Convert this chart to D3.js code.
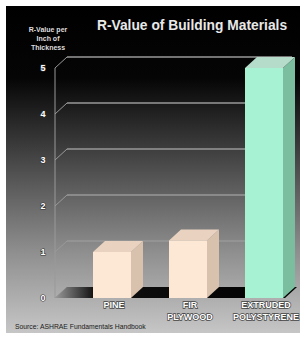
<!DOCTYPE html>
<html>
<head>
<meta charset="utf-8">
<script src="https://cdn.jsdelivr.net/npm/d3@7"></script>
<style>
  html, body { margin: 0; padding: 0; background: #fff; }
  svg { display: block; font-family: "Liberation Sans", Arial, sans-serif; }
</style>
</head>
<body>
<div id="chart"></div>
<script>
// chart data
const categories = ["PINE", "FIR PLYWOOD", "EXTRUDED POLYSTYRENE"]
const labelLines = [["PINE"], ["FIR", "PLYWOOD"], ["EXTRUDED", "POLYSTYRENE"]]
const values = [1.0, 1.25, 5.0]
const tickValues = [0, 1, 2, 3, 4, 5]

const width = 308, height = 339
const depthX = 12, depthY = -11

const svg = d3.select("#chart").append("svg")
  .attr("width", width)
  .attr("height", height)

const defs = svg.append("defs")
let bg = defs.append("linearGradient").attr("id", "bg")
  .attr("x1", 0).attr("y1", 0).attr("x2", 0).attr("y2", 1)
bg.append("stop").attr("offset", "0%").attr("stop-color", "#000")
bg.append("stop").attr("offset", "22%").attr("stop-color", "#050505")
bg.append("stop").attr("offset", "50%").attr("stop-color", "#4e4e4e")
bg.append("stop").attr("offset", "75%").attr("stop-color", "#8e8e8e")
bg.append("stop").attr("offset", "100%").attr("stop-color", "#c6c6c6")

let floorGrad = defs.append("linearGradient").attr("id", "floor")
  .attr("x1", 0).attr("y1", 0).attr("x2", 1).attr("y2", 0)
floorGrad.append("stop").attr("offset", "0%").attr("stop-color", "#9a9a9a")
floorGrad.append("stop").attr("offset", "16%").attr("stop-color", "#111")
floorGrad.append("stop").attr("offset", "100%").attr("stop-color", "#000")

// panel
svg.append("rect")
  .attr("x", 6).attr("y", 6)
  .attr("width", 294).attr("height", 327)
  .attr("fill", "url(#bg)")

let xScale = d3.scaleBand()
  .domain(categories)
  .range([74, 302])
  .paddingInner(0.5)
  .paddingOuter(0.25)

let yScale = d3.scaleLinear()
  .domain([0, 5])
  .range([298, 68])

const axisX = 55

// back wall gridlines with diagonal ticks
let grid = svg.append("g").attr("class", "grid")
grid.selectAll("line.wall")
  .data(tickValues.filter(d => d > 0))
  .enter().append("line")
  .attr("class", "wall")
  .attr("x1", axisX + depthX).attr("x2", 292)
  .attr("y1", d => yScale(d) + depthY).attr("y2", d => yScale(d) + depthY)
  .attr("stroke", "#999").attr("stroke-width", 1.3)
grid.selectAll("line.diag")
  .data(tickValues)
  .enter().append("line")
  .attr("class", "diag")
  .attr("x1", axisX).attr("x2", axisX + depthX)
  .attr("y1", d => yScale(d)).attr("y2", d => yScale(d) + depthY)
  .attr("stroke", "#999").attr("stroke-width", 1)
grid.append("line")
  .attr("x1", axisX).attr("x2", axisX)
  .attr("y1", yScale(0)).attr("y2", yScale(5))
  .attr("stroke", "#999").attr("stroke-width", 1)

// floor
let y0 = yScale(0)
svg.append("path")
  .attr("d", `M${axisX},${y0} L${axisX + depthX},${y0 + depthY} L297,${y0 + depthY} L285,${y0} Z`)
  .attr("fill", "url(#floor)")

// tick labels
svg.append("g").selectAll("text")
  .data(tickValues)
  .enter().append("text")
  .attr("x", 43)
  .attr("y", d => yScale(d) + 3)
  .attr("text-anchor", "middle")
  .attr("font-size", 9).attr("font-weight", "bold")
  .attr("fill", "#fff")
  .attr("stroke", "#333").attr("stroke-width", 1.2)
  .attr("paint-order", "stroke")
  .text(d => d)

// 3d bars
const faces = {
  "PINE": { front: "#fde8d6", side: "#d8c1ad", top: "#e9d3c0" },
  "FIR PLYWOOD": { front: "#fde8d6", side: "#d8c1ad", top: "#e9d3c0" },
  "EXTRUDED POLYSTYRENE": { front: "#a6f2d2", side: "#7abd9f", top: "#b5dccb" }
}

let bars = svg.selectAll("g.bar")
  .data(categories.map((c, i) => ({ name: c, value: values[i] })))
  .enter().append("g")
  .attr("class", "bar")

bars.append("path")
  .attr("d", d => {
    let x1 = xScale(d.name) + xScale.bandwidth(), yt = yScale(d.value)
    return `M${x1},${y0} L${x1},${yt} L${x1 + depthX},${yt + depthY} L${x1 + depthX},${y0 + depthY} Z`
  })
  .attr("fill", d => faces[d.name].side)
bars.append("path")
  .attr("d", d => {
    let x0 = xScale(d.name), x1 = x0 + xScale.bandwidth(), yt = yScale(d.value)
    return `M${x0},${yt} L${x0 + depthX},${yt + depthY} L${x1 + depthX},${yt + depthY} L${x1},${yt} Z`
  })
  .attr("fill", d => faces[d.name].top)
bars.append("rect")
  .attr("x", d => xScale(d.name))
  .attr("y", d => yScale(d.value))
  .attr("width", xScale.bandwidth())
  .attr("height", d => y0 - yScale(d.value))
  .attr("fill", d => faces[d.name].front)

// category labels
let cat = svg.append("g").selectAll("text")
  .data(categories)
  .enter().append("text")
  .attr("x", d => xScale(d) + xScale.bandwidth() / 2 + 2)
  .attr("y", 308)
  .attr("text-anchor", "middle")
  .attr("font-size", 9).attr("font-weight", "bold")
  .attr("fill", "#fff")
  .attr("stroke", "#444").attr("stroke-width", 1.4)
  .attr("paint-order", "stroke")
cat.selectAll("tspan")
  .data((d, i) => labelLines[i])
  .enter().append("tspan")
  .attr("x", function() { return d3.select(this.parentNode).attr("x") })
  .attr("dy", (d, i) => i ? 12 : 0)
  .text(d => d)

// titles
svg.append("text")
  .attr("x", 192).attr("y", 30)
  .attr("text-anchor", "middle")
  .attr("font-size", 13.8).attr("font-weight", "bold")
  .attr("fill", "#e8e8e8")
  .text("R-Value of Building Materials")

let yTitle = svg.append("text")
  .attr("x", 48).attr("y", 32)
  .attr("text-anchor", "middle")
  .attr("font-size", 7).attr("font-weight", "bold")
  .attr("fill", "#ddd")
yTitle.selectAll("tspan")
  .data(["R-Value per", "Inch of", "Thickness"])
  .enter().append("tspan")
  .attr("x", 48)
  .attr("dy", (d, i) => i ? 9 : 0)
  .text(d => d)

svg.append("text")
  .attr("x", 15).attr("y", 329)
  .attr("font-size", 6.8)
  .attr("fill", "#1a1a1a")
  .text("Source: ASHRAE Fundamentals Handbook")
</script>
</body>
</html>
